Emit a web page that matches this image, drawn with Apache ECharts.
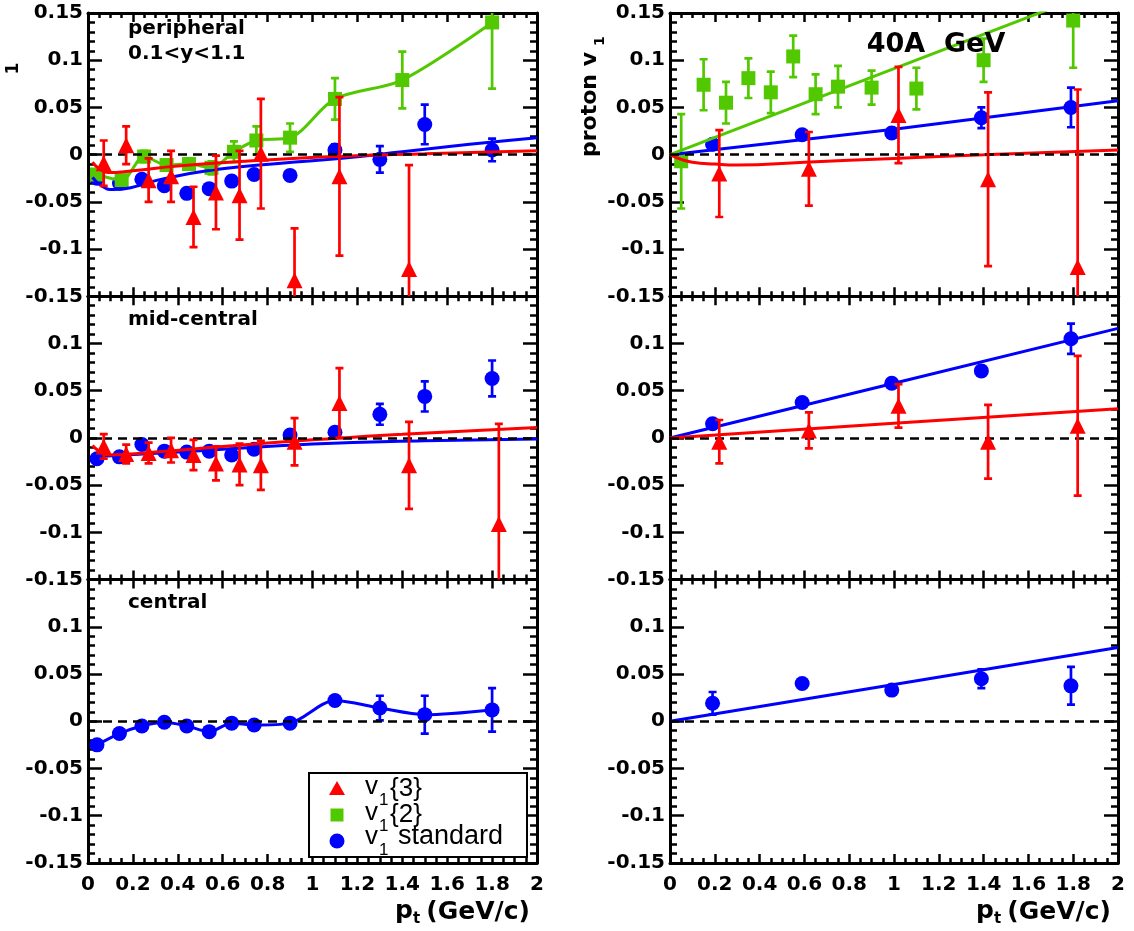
<!DOCTYPE html>
<html><head><meta charset="utf-8">
<script src="https://cdn.jsdelivr.net/npm/echarts@6/dist/echarts.min.js"></script>
<style>html,body{margin:0;padding:0;background:#fff}#c{width:1134px;height:931px}</style>
</head><body><div id="c"></div>
<script>
// ---------- tick labels ----------
const xTicks = [0, 0.2, 0.4, 0.6, 0.8, 1, 1.2, 1.4, 1.6, 1.8, 2];
const yTicks = [-0.15, -0.1, -0.05, 0, 0.05, 0.1, 0.15];

// ---------- left column (pt bins) ----------
const stdX = [0.04, 0.14, 0.24, 0.34, 0.44, 0.54, 0.64, 0.74, 0.9, 1.1, 1.3, 1.5, 1.8];
const v2X  = [0.04, 0.15, 0.25, 0.35, 0.45, 0.55, 0.65, 0.75, 0.9, 1.1, 1.4, 1.8];
const v3X  = [0.07, 0.17, 0.27, 0.37, 0.47, 0.57, 0.675, 0.77, 0.92, 1.12, 1.43, 1.83];

// peripheral (left)
const periStdY   = [-0.025, -0.030, -0.026, -0.033, -0.041, -0.036, -0.028, -0.021, -0.022, 0.005, -0.005, 0.032, 0.005];
const periStdErr = [0.003, 0.003, 0.003, 0.003, 0.003, 0.003, 0.004, 0.004, 0.005, 0.006, 0.014, 0.021, 0.012];
const periV2Y    = [-0.021, -0.027, -0.002, -0.011, -0.010, -0.014, 0.003, 0.015, 0.018, 0.059, 0.079, 0.140];
const periV2Err  = [0.005, 0.005, 0.006, 0.006, 0.006, 0.007, 0.011, 0.015, 0.015, 0.022, 0.030, 0.070];
const periV3X    = [0.07, 0.17, 0.27, 0.37, 0.47, 0.57, 0.675, 0.77, 0.92, 1.12, 1.43];
const periV3Y    = [-0.009, 0.010, -0.027, -0.023, -0.066, -0.040, -0.043, 0.001, -0.133, -0.023, -0.121];
const periV3Err  = [0.024, 0.020, 0.023, 0.027, 0.032, 0.039, 0.047, 0.058, 0.055, 0.084, 0.110];
const periStdFitX = [0.02, 0.06, 0.11, 0.19, 0.31, 0.56, 0.86, 1.12, 1.4, 1.7, 2.0];
const periStdFitY = [-0.024, -0.033, -0.037, -0.035, -0.027, -0.016, -0.009, -0.004, 0.003, 0.011, 0.018];
const periV3FitX  = [0.02, 0.05, 0.09, 0.2, 0.4, 0.7, 1.1, 1.5, 2.0];
const periV3FitY  = [-0.008, -0.015, -0.019, -0.017, -0.012, -0.007, -0.002, 0.001, 0.004];

// mid-central (left)
const midStdY   = [-0.022, -0.020, -0.007, -0.014, -0.015, -0.014, -0.018, -0.012, 0.003, 0.006, 0.025, 0.044, 0.063];
const midStdErr = [0.003, 0.003, 0.003, 0.003, 0.003, 0.003, 0.003, 0.004, 0.004, 0.005, 0.011, 0.016, 0.019];
const midV3Y    = [-0.009, -0.017, -0.016, -0.013, -0.018, -0.027, -0.028, -0.029, -0.004, 0.037, -0.029, -0.091];
const midV3Err  = [0.013, 0.010, 0.011, 0.013, 0.016, 0.018, 0.022, 0.026, 0.025, 0.037, 0.046, 0.106];
const midStdFitX = [0.03, 0.5, 1.0, 1.5, 2.0];
const midStdFitY = [-0.020, -0.0135, -0.0065, -0.003, -0.001];
const midV3FitX  = [0.02, 0.05, 0.09, 0.3, 0.6, 1.0, 1.4, 2.0];
const midV3FitY  = [-0.008, -0.014, -0.018, -0.015, -0.009, -0.002, 0.004, 0.011];

// central (left)
const centStdY   = [-0.025, -0.013, -0.005, -0.001, -0.005, -0.011, -0.002, -0.004, -0.002, 0.022, 0.014, 0.007, 0.012];
const centStdErr = [0.003, 0.003, 0.003, 0.003, 0.003, 0.003, 0.003, 0.003, 0.004, 0.005, 0.013, 0.020, 0.023];

// ---------- right column: proton v1 ----------
const pStdX = [0.19, 0.59, 0.99, 1.39, 1.79];
const pV3X  = [0.22, 0.62, 1.02, 1.42, 1.82];
const pV2X  = [0.05, 0.15, 0.25, 0.35, 0.45, 0.55, 0.65, 0.75, 0.9, 1.1, 1.4, 1.8];

const periPStdY   = [0.011, 0.021, 0.023, 0.039, 0.050];
const periPStdErr = [0.004, 0.004, 0.005, 0.011, 0.021];
const periPV2Y    = [-0.007, 0.074, 0.055, 0.081, 0.066, 0.104, 0.064, 0.072, 0.071, 0.070, 0.100, 0.142];
const periPV2Err  = [0.050, 0.027, 0.022, 0.021, 0.022, 0.022, 0.021, 0.022, 0.018, 0.022, 0.023, 0.050];
const periPV3Y    = [-0.020, -0.015, 0.042, -0.026, -0.119];
const periPV3Err  = [0.046, 0.039, 0.051, 0.092, 0.188];
const periPV2FitX  = [0, 1, 2];
const periPV2FitY  = [0, 0.091, 0.182];
const periPStdFitX = [0, 1, 2];
const periPStdFitY = [0, 0.027, 0.057];
const periPV3FitX  = [0, 0.05, 0.1, 0.2, 0.3, 0.6, 1.0, 1.4, 2.0];
const periPV3FitY  = [0, -0.005, -0.008, -0.010, -0.011, -0.008, -0.004, 0, 0.005];

const midPStdY   = [0.015, 0.0375, 0.058, 0.071, 0.105];
const midPStdErr = [0.004, 0.004, 0.004, 0.005, 0.016];
const midPV3Y    = [-0.004, 0.008, 0.034, -0.004, 0.013];
const midPV3Err  = [0.023, 0.019, 0.023, 0.039, 0.074];
const midPStdFitX = [0, 1, 2];
const midPStdFitY = [0, 0.058, 0.116];
const midPV3FitX  = [0, 1, 2];
const midPV3FitY  = [0, 0.0155, 0.031];

const centPStdY   = [0.019, 0.040, 0.033, 0.045, 0.0375];
const centPStdErr = [0.012, 0.004, 0.004, 0.010, 0.020];
const centPStdFitX = [0, 1, 2];
const centPStdFitY = [0, 0.039, 0.078];

// ---------- names / texts ----------
const nameV3 = 'v1{3}', nameV2 = 'v1{2}', nameStd = 'v1 standard';
const panelTexts = ['peripheral', '0.1<y<1.1', 'mid-central', 'central', '40A  GeV'];

// ---------- styling ----------
const RED = '#ff0000', GREEN = '#52c800', BLUE = '#0000ff';
const LEFTS = [88, 670], WIDTHS = [449, 448];
const TOPS = [13, 296.3, 579.6], H = 283.3;
const BOLD = '"DejaVu Sans", "Liberation Sans", sans-serif';

const grids = [], xAxes = [], yAxes = [], series = [];
const cells = [[0,0],[0,1],[1,0],[1,1],[2,0],[2,1]];
const round2 = v => String(parseFloat(Number(v).toFixed(2)));
const xInt = +(xTicks[1] - xTicks[0]).toFixed(4);
const yInt = +(yTicks[1] - yTicks[0]).toFixed(4);

cells.forEach(([r, c], g) => {
  grids.push({left: LEFTS[c], top: TOPS[r], width: WIDTHS[c], height: H, containLabel: false, outerBoundsMode: 'none'});
  const lineS = {color: '#000', width: 3};
  const baseX = {
    gridIndex: g, type: 'value', min: xTicks[0], max: xTicks[xTicks.length - 1], interval: xInt,
    axisLine: {show: true, onZero: false, lineStyle: lineS},
    axisTick: {show: true, inside: true, length: 9, lineStyle: {color: '#000', width: 2.5}},
    minorTick: {show: true, splitNumber: 4, length: 5, lineStyle: {color: '#000', width: 2.5}},
    splitLine: {show: false}, minorSplitLine: {show: false}
  };
  xAxes.push(Object.assign({}, baseX, {position: 'bottom',
    axisLabel: {show: r === 2, margin: 12, color: '#000', fontFamily: BOLD, fontWeight: 'bold', fontSize: 20,
      showMinLabel: true, showMaxLabel: true, formatter: round2}}));
  xAxes.push(Object.assign({}, baseX, {position: 'top', axisLabel: {show: false}}));
  const baseY = {
    gridIndex: g, type: 'value', min: yTicks[0], max: yTicks[yTicks.length - 1], interval: yInt,
    axisLine: {show: true, onZero: false, lineStyle: lineS},
    axisTick: {show: true, inside: true, length: 14, lineStyle: {color: '#000', width: 2.5}},
    minorTick: {show: true, splitNumber: 5, length: 7, lineStyle: {color: '#000', width: 2.5}},
    splitLine: {show: false}, minorSplitLine: {show: false}
  };
  yAxes.push(Object.assign({}, baseY, {position: 'left',
    axisLabel: {show: true, margin: 5, color: '#000', fontFamily: BOLD, fontWeight: 'bold', fontSize: 20,
      showMinLabel: true, showMaxLabel: r === 0, formatter: round2}}));
  yAxes.push(Object.assign({}, baseY, {position: 'right', axisLabel: {show: false}}));
});

const zip = (x, y) => x.map((v, i) => [v, y[i]]);
function errBars(g, name, x, y, e, color, z) {
  return {
    type: 'custom', name, xAxisIndex: 2 * g, yAxisIndex: 2 * g, clip: true, silent: true, z,
    data: x.map((v, i) => [v, y[i], e[i]]),
    renderItem(params, api) {
      const xv = api.value(0), yv = api.value(1), ev = api.value(2);
      const t = api.coord([xv, yv + ev]), b = api.coord([xv, yv - ev]);
      const cw = 4, st = {stroke: color, lineWidth: 2.7};
      return {type: 'group', children: [
        {type: 'line', shape: {x1: t[0], y1: t[1], x2: b[0], y2: b[1]}, style: st},
        {type: 'line', shape: {x1: t[0] - cw, y1: t[1], x2: t[0] + cw, y2: t[1]}, style: st},
        {type: 'line', shape: {x1: b[0] - cw, y1: b[1], x2: b[0] + cw, y2: b[1]}, style: st}
      ]};
    }
  };
}
function points(g, name, x, y, symbol, color, size, z) {
  return {type: 'scatter', name, xAxisIndex: 2 * g, yAxisIndex: 2 * g, symbol, symbolSize: size,
    itemStyle: {color, opacity: 1}, data: zip(x, y), silent: true, clip: true, z};
}
function curve(g, name, x, y, color, smooth) {
  return {type: 'line', name, xAxisIndex: 2 * g, yAxisIndex: 2 * g, data: zip(x, y), showSymbol: false,
    symbol: 'none', smooth, lineStyle: {color, width: 3}, silent: true, clip: true, z: 4};
}
function zeroLine(g) {
  return {type: 'line', xAxisIndex: 2 * g, yAxisIndex: 2 * g, data: [], silent: true, z: 1,
    markLine: {silent: true, symbol: ['none', 'none'], label: {show: false},
      lineStyle: {color: '#000', type: [9, 6], width: 2.5}, data: [{yAxis: 0}]}};
}
const TRI = 'triangle', SQ = 'rect', CIR = 'circle';

// Grid 0: peripheral, left
series.push(zeroLine(0),
  errBars(0, nameStd, stdX, periStdY, periStdErr, BLUE, 2), points(0, nameStd, stdX, periStdY, CIR, BLUE, 15, 2),
  errBars(0, nameV2, v2X, periV2Y, periV2Err, GREEN, 3), points(0, nameV2, v2X, periV2Y, SQ, GREEN, 14, 3),
  curve(0, nameStd, periStdFitX, periStdFitY, BLUE, true),
  curve(0, nameV2, v2X, periV2Y, GREEN, 0.3),
  curve(0, nameV3, periV3FitX, periV3FitY, RED, true),
  errBars(0, nameV3, periV3X, periV3Y, periV3Err, RED, 5), points(0, nameV3, periV3X, periV3Y, TRI, RED, 16, 5));
// Grid 1: peripheral, right
series.push(zeroLine(1),
  errBars(1, nameStd, pStdX, periPStdY, periPStdErr, BLUE, 2), points(1, nameStd, pStdX, periPStdY, CIR, BLUE, 15, 2),
  errBars(1, nameV2, pV2X, periPV2Y, periPV2Err, GREEN, 3), points(1, nameV2, pV2X, periPV2Y, SQ, GREEN, 14, 3),
  curve(1, nameStd, periPStdFitX, periPStdFitY, BLUE, false),
  curve(1, nameV2, periPV2FitX, periPV2FitY, GREEN, false),
  curve(1, nameV3, periPV3FitX, periPV3FitY, RED, true),
  errBars(1, nameV3, pV3X, periPV3Y, periPV3Err, RED, 5), points(1, nameV3, pV3X, periPV3Y, TRI, RED, 16, 5));
// Grid 2: mid-central, left
series.push(zeroLine(2),
  errBars(2, nameStd, stdX, midStdY, midStdErr, BLUE, 2), points(2, nameStd, stdX, midStdY, CIR, BLUE, 15, 2),
  curve(2, nameStd, midStdFitX, midStdFitY, BLUE, true),
  curve(2, nameV3, midV3FitX, midV3FitY, RED, true),
  errBars(2, nameV3, v3X, midV3Y, midV3Err, RED, 5), points(2, nameV3, v3X, midV3Y, TRI, RED, 16, 5));
// Grid 3: mid-central, right
series.push(zeroLine(3),
  errBars(3, nameStd, pStdX, midPStdY, midPStdErr, BLUE, 2), points(3, nameStd, pStdX, midPStdY, CIR, BLUE, 15, 2),
  curve(3, nameStd, midPStdFitX, midPStdFitY, BLUE, false),
  curve(3, nameV3, midPV3FitX, midPV3FitY, RED, true),
  errBars(3, nameV3, pV3X, midPV3Y, midPV3Err, RED, 5), points(3, nameV3, pV3X, midPV3Y, TRI, RED, 16, 5));
// Grid 4: central, left
series.push(zeroLine(4),
  errBars(4, nameStd, stdX, centStdY, centStdErr, BLUE, 2), points(4, nameStd, stdX, centStdY, CIR, BLUE, 15, 2),
  curve(4, nameStd, stdX, centStdY, BLUE, 0.3));
// Grid 5: central, right
series.push(zeroLine(5),
  errBars(5, nameStd, pStdX, centPStdY, centPStdErr, BLUE, 2), points(5, nameStd, pStdX, centPStdY, CIR, BLUE, 15, 2),
  curve(5, nameStd, centPStdFitX, centPStdFitY, BLUE, false));

// ---------- texts / legend (graphic) ----------
const fB = s => 'bold ' + s + 'px ' + BOLD;
const fR = s => s + 'px "Liberation Sans", Arial, sans-serif';
const txt = (text, x, y, font, align, va, extra) => Object.assign({type: 'text', x, y, z: 50, silent: true,
  style: {text, font, fill: '#000', align: align || 'left', verticalAlign: va || 'middle'}}, extra || {});
const graphic = [
  txt(panelTexts[0], 128, 29, fB(20)),
  txt(panelTexts[1], 128, 54, fB(20)),
  txt(panelTexts[2], 128, 320, fB(20)),
  txt(panelTexts[3], 128, 603, fB(20)),
  txt(panelTexts[4], 936, 45, fB(27), 'center'),
  // y titles
  txt('proton v', 590, 157, fB(22), 'left', 'middle', {rotation: Math.PI / 2}),
  txt('1', 600, 46, fB(14), 'left', 'middle', {rotation: Math.PI / 2}),
  txt('1', 14, 68.5, fB(17), 'center', 'middle', {rotation: Math.PI / 2}),
  // x titles
  txt('(GeV/c)', 530, 912, fB(25), 'right'),
  txt('t', 413, 919, fB(15), 'left'),
  txt('p', 413, 911, fB(25), 'right'),
  txt('(GeV/c)', 1111, 912, fB(25), 'right'),
  txt('t', 994, 919, fB(15), 'left'),
  txt('p', 994, 911, fB(25), 'right'),
  // legend
  {type: 'rect', z: 60, silent: true, shape: {x: 309, y: 773, width: 218, height: 84},
   style: {fill: '#fff', stroke: '#000', lineWidth: 2}},
  {type: 'polygon', z: 61, silent: true, shape: {points: [[337, 781], [345, 795], [329, 795]]}, style: {fill: RED}},
  {type: 'rect', z: 61, silent: true, shape: {x: 330.5, y: 808.5, width: 13, height: 13}, style: {fill: GREEN}},
  {type: 'circle', z: 61, silent: true, shape: {cx: 337, cy: 841, r: 7.5}, style: {fill: BLUE}},
  txt('v', 365, 787, fR(26), 'left', 'middle', {z: 62}),
  txt('1', 379, 800, fR(17), 'left', 'middle', {z: 62}),
  txt('{3}', 390, 789, fR(26), 'left', 'middle', {z: 62}),
  txt('v', 365, 813, fR(26), 'left', 'middle', {z: 62}),
  txt('1', 379, 826, fR(17), 'left', 'middle', {z: 62}),
  txt('{2}', 390, 815, fR(26), 'left', 'middle', {z: 62}),
  txt('v', 365, 837, fR(26), 'left', 'middle', {z: 62}),
  txt('1', 379, 850, fR(17), 'left', 'middle', {z: 62}),
  txt('standard', 398, 837, fR(27), 'left', 'middle', {z: 62})
];

const chart = echarts.init(document.getElementById('c'), null, {renderer: 'canvas'});
chart.setOption({
  animation: false, backgroundColor: '#fff',
  grid: grids, xAxis: xAxes, yAxis: yAxes, series, graphic
});
</script></body></html>
